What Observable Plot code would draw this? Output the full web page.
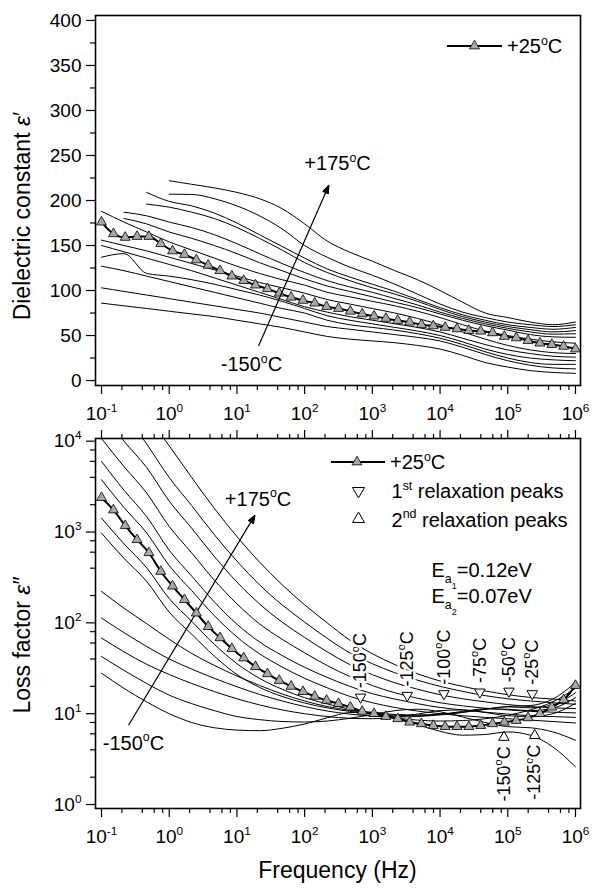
<!DOCTYPE html>
<html><head><meta charset="utf-8">
<script src="https://cdn.jsdelivr.net/npm/d3@7"></script>
<script src="https://cdn.jsdelivr.net/npm/@observablehq/plot@0.6"></script>
<style>
body{margin:0;background:#fff;}
#chart{width:592px;height:888px;}
#chart svg{display:block;}
</style></head><body><div id="chart"></div>
<script>
const FONT = "'Liberation Sans', Arial, Helvetica, sans-serif";

// ---------- frequency grids (Hz) ----------
const freqGrid = [0.1, 0.215, 0.464, 1, 2.15, 4.64, 10, 21.5, 46.4, 100, 215, 464, 1000, 2150, 4640, 1e4, 2.15e4, 4.64e4, 1e5, 2.15e5, 4.64e5, 1e6];
const freq25 = [0.1, 0.15, 0.224, 0.335, 0.501, 0.75, 1.12, 1.68, 2.51, 3.76, 5.62, 8.41, 12.6, 18.8, 28.2, 42.2, 63.1, 94.4, 141, 211, 316, 473, 708, 1059, 1585, 2371, 3548, 5309, 7943, 11885, 17783, 26607, 39811, 59566, 89125, 133352, 199526, 298538, 446684, 668344, 1e6];

// ---------- +25 °C (marked) curves ----------
const eps25 = [176,163,159,160,160,152,144,140,134,128,122,116,111,106,102,97,92.5,89,86,82,80,77,74,71.5,69,66.7,64.8,62,60.7,59,57.4,55.5,54.8,53,49,47.4,44.4,41.5,40,38,35];
const loss25 = [2390,1750,1175,823,591,368,254,180,128,91,68.5,52,41,33,27.5,23.2,20,17.5,15.5,14,12.9,11.8,10.6,10,9.3,8.8,8.06,7.74,7.4,7.2,7.2,7.2,7.4,7.74,8.06,8.4,9.0,10,11.8,14.2,20.4];

// ---------- dielectric constant, other temperatures (on freqGrid) ----------
const epsA = [null,null,null,222,218,214,209,202,191,174,155,142.6,132.6,122,112,100,87,75,70,65,62,65];
const epsB = [null,null,null,207,206.7,202,194,183,168.5,150,137,126,117,107,96,85,76,70,65,62,60,62];
const epsC = [null,null,209,199,194,186,175,162,149,136,124,115,107,99,90,81,73,67,62,59,57,59];
const epsD = [null,null,196,192.6,187,180,170,158,145,131,120,111,103,96,88,79,71,65,60,56.5,54,55.5];
const epsE = [null,187,183,176,170,162,152,141,130,120,111,104,98,91,84,76,69,63,58,54,51.5,52];
const epsF = [null,180,174,165,158,150,141,131,122,113,105,99,93,87,81,74,67,61,56,51,48.5,48];
const epsG = [188,176,165,154,145,136,127,119,112,106,98,93,88,83,77,70,62,55,50,46,43,41.5];
const epsH = [156,150,144,137,130,123,116,109,103,97,90,85,80,75,69,62,54,46,39,34,31,30];
const epsI = [150,143,136,129,122,114,106,98,90,82,76,71,67,63,59,54,47,40,34,30,27,26];
const epsJ = [137,141,119,116,112,107,101,95,88,80,72,67,63,59,55,50,43,35,29,25,23,22];
const epsK = [127,122,116,110,104,98,92,86,80,75,67,62,59,56,52,47,40,32,25,20,18,18];
const epsL = [103,99,95,91,87,83,79,75,70,65,60,57,54,51,48,44,37,29,22,17,14,13];
const epsM = [86,83,80,77,74,71,67,63,59,54,49,46,44,42,39,35,28,20,15,11,9,8];

// ---------- loss factor, other temperatures (on freqGrid) ----------
const loss175 = [89000,41700,19000,8900,3980,1820,891,468,263,158,100,64.6,45.7,34.7,27.5,22.9,20,17.8,16.2,15.1,14.5,13.8];
const loss150 = [44700,20900,9330,3980,1950,933,479,263,158,102,67.6,46.8,35.5,28.2,23.4,20,17.6,15.8,14.6,13.8,13.2,12.7];
const loss125 = [21400,10000,5130,2190,1100,537,282,162,102,69,48,34.7,26.9,21.9,18.6,16.2,14.6,13.5,12.6,12,11.6,11.4];
const loss100 = [10700,5250,2690,1150,589,295,162,97.7,66,46.8,33.9,25.7,20.4,17,14.8,13.2,12.2,11.5,11,10.6,10.4,10.2];
const loss75  = [5990,2880,1480,631,327,170,96.6,61.7,43.7,32.4,25.1,20,16.6,14.5,12.9,11.7,11,10.4,9.9,9.5,9.3,9.1];
const loss50  = [3770,1860,977,427,226,120,70,45.7,32.7,24.5,19.3,15.5,13.2,11.7,10.7,10,9.5,9.1,8.8,8.5,8.2,7.9];
const loss0   = [1422,741,404,185,104,58,35.6,24.5,18.6,15,12.8,11.2,9.8,9.0,8.5,8.3,8.4,8.8,9.6,11,13.5,19];
const lossM25 = [973,513,286,131,75,43,27,19.5,15.5,13.1,11.6,10.6,10,9.6,9.5,9.7,10.3,11.2,12,12.3,14.5,22];
const lossM50 = [222,145,98,66,46,34,26,20.5,16.5,13.8,12,10.9,10.2,9.8,9.7,9.9,10.4,11.2,11.9,11.6,12.5,17];
const lossM75 = [113,78,55,40,31,24.5,19.8,16.3,13.8,12,10.7,9.9,9.4,9.2,9.3,9.8,10.6,11.3,11.2,10.8,11.5,15];
const lossM100 = [68,48,35,27,21.5,17.5,14.6,12.5,11,10,9.3,8.9,8.8,9.1,9.9,10.8,11,10.3,9.5,9.3,10,13];
const lossM125 = [42.6,30,21.5,16,12.9,10.8,9.3,8.6,8.2,8.1,8.3,8.9,9.8,10.8,11.2,10.5,9.2,8,7.2,7,6.3,5.1];
const lossM150 = [27.9,19,13.5,10,8,7,6.6,6.5,6.9,7.7,9,10.3,10.4,9.2,7.6,6.4,5.8,5.9,6.3,5.8,4.3,2.6];

// ---------- relaxation peaks ----------
const peak1Freq = [670, 3280, 11400, 38700, 104000, 230000];
const peak1Val = [15.2, 15.9, 16.6, 17.3, 17.7, 16.6];
const peak1Label = ["-150^{o}C","-125^{o}C","-100^{o}C","-75^{o}C","-50^{o}C","-25^{o}C"];
const peak2Freq = [87700, 250000];
const peak2Val = [5.5, 5.75];
const peak2Label = ["-150^{o}C","-125^{o}C"];

// ---------- annotations ----------
const topNoteFreq = [306, 16.4];
const topNoteVal = [241, 17.8];
const topNoteText = ["+175^{o}C", "-150^{o}C"];
const topArrow = {f1: 21, v1: 38.9, f2: 227, v2: 216.7};
const botNoteFreq = [20.5, 0.297];
const botNoteVal = [2290, 4.7];
const botNoteText = ["+175^{o}C", "-150^{o}C"];
const botArrow = {f1: 0.253, v1: 7.55, f2: 18.4, v2: 1524};

// ---------- ticks ----------
const xMajor = [0.1, 1, 10, 100, 1e3, 1e4, 1e5, 1e6];
const xMinor = [];
for (let e = -1; e < 6; e++) for (const m of [2, 4, 6, 8]) xMinor.push(+(m * Math.pow(10, e)).toPrecision(3));
const epsMajor = [0, 50, 100, 150, 200, 250, 300, 350, 400];
const epsMinor = [25, 75, 125, 175, 225, 275, 325, 375];
const lossMajor = [1, 10, 100, 1000, 10000];
const lossMinor = [];
for (let e = 0; e < 4; e++) for (const m of [2, 4, 6, 8]) lossMinor.push(m * Math.pow(10, e));
const expFmt = v => `10^{${Math.round(Math.log10(v))}}`;

// ---------- helpers ----------
function toRows(values, freqs, id) {
  return values.map((v, i) => ({f: freqs[i], v, id})).filter(d => d.v != null);
}
const epsThin = [epsA,epsB,epsC,epsD,epsE,epsF,epsG,epsH,epsI,epsJ,epsK,epsL,epsM].flatMap((a, k) => toRows(a, freqGrid, "e" + k));
const lossThin = [loss175,loss150,loss125,loss100,loss75,loss50,loss0,lossM25,lossM50,lossM75,lossM100,lossM125,lossM150].flatMap((a, k) => toRows(a, freqGrid, "l" + k));
const eps25Rows = toRows(eps25, freq25, "25");
const loss25Rows = toRows(loss25, freq25, "25");
const peak1Rows = peak1Freq.map((f, i) => ({f, v: peak1Val[i], t: peak1Label[i]}));
const peak2Rows = peak2Freq.map((f, i) => ({f, v: peak2Val[i], t: peak2Label[i]}));
const topNotes = topNoteFreq.map((f, i) => ({f, v: topNoteVal[i], t: topNoteText[i]}));
const botNotes = botNoteFreq.map((f, i) => ({f, v: botNoteVal[i], t: botNoteText[i]}));

const NS = "http://www.w3.org/2000/svg";
function richify(root) {
  root.querySelectorAll("text").forEach(el => {
    const s = el.textContent;
    if (!/[\^_]\{/.test(s)) return;
    const fs = parseFloat(getComputedStyle(el).fontSize) || 18;
    el.textContent = "";
    const parts = s.split(/(\^\{[^}]*\}|__\{[^}]*\}|_\{[^}]*\})/).filter(p => p);
    let cur = 0;
    for (const p of parts) {
      let off = 0, scale = 1, txt = p;
      if (p.startsWith("^{")) { off = -0.42; scale = 0.62; txt = p.slice(2, -1); }
      else if (p.startsWith("__{")) { off = 0.62; scale = 0.45; txt = p.slice(3, -1); }
      else if (p.startsWith("_{")) { off = 0.3; scale = 0.62; txt = p.slice(2, -1); }
      const t = document.createElementNS(NS, "tspan");
      const target = off * fs;
      if (Math.abs(target - cur) > 0.01) t.setAttribute("dy", (target - cur).toFixed(2));
      cur = target;
      if (scale !== 1) t.setAttribute("font-size", (fs * scale).toFixed(1));
      t.textContent = txt;
      el.appendChild(t);
    }
  });
}
function fillArrows(root) {
  root.querySelectorAll('g[aria-label="arrow"] path').forEach(p => {
    const n = (p.getAttribute("d").match(/-?\d*\.?\d+(?:e[-+]?\d+)?/g) || []).map(Number);
    if (n.length >= 10) {
      const h = document.createElementNS(NS, "path");
      h.setAttribute("d", `M${n[4]},${n[5]}L${n[6]},${n[7]}L${n[8]},${n[9]}Z`);
      h.setAttribute("fill", "black");
      h.setAttribute("stroke", "black");
      h.setAttribute("stroke-width", "1");
      p.parentNode.appendChild(h);
    }
  });
}
function addText(svg, x, y, str, opts = {}) {
  const t = svg.append("text").attr("x", x).attr("y", y)
    .attr("font-family", FONT).attr("font-size", opts.size || 20).attr("fill", "black")
    .attr("text-anchor", opts.anchor || "start");
  if (opts.rotate) t.attr("transform", `rotate(${opts.rotate},${x},${y})`).attr("dy", "0.35em");
  if (str) t.text(str);
  return t;
}

const common = {
  width: 592,
  marginRight: 12, marginLeft: 95,
  style: {fontFamily: FONT, fontSize: "19px", color: "black", background: "white", overflow: "visible"},
  x: {type: "log", domain: [0.0815, 1.186e6], label: null}
};
const lineStyle = {x: "f", y: "v", z: "id", stroke: "black", strokeWidth: 1, curve: "monotone-x", clip: true};

// ================= TOP PANEL =================
const topSvg = Plot.plot({
  ...common,
  height: 425, marginTop: 15, marginBottom: 40,
  y: {domain: [-5.5, 405.5], label: null},
  marks: [
    Plot.line(epsThin, lineStyle),
    Plot.line(eps25Rows, {...lineStyle, strokeWidth: 2}),
    Plot.dot(eps25Rows, {x: "f", y: "v", symbol: "triangle", r: 3.7, fill: "#a8a8a8", stroke: "black", strokeWidth: 0.8}),
    Plot.arrow([topArrow], {x1: "f1", y1: "v1", x2: "f2", y2: "v2", stroke: "black", strokeWidth: 1.2, headLength: 10, headAngle: 40}),
    Plot.text(topNotes, {x: "f", y: "v", text: "t", fontSize: 20, fill: "black", stroke: "white", strokeWidth: 4, paintOrder: "stroke"}),
    Plot.frame({stroke: "black", strokeWidth: 1.6}),
    Plot.axisX(xMinor, {anchor: "bottom", tickSize: 5, tickFormat: () => "", strokeWidth: 1.2, label: null}),
    Plot.axisX(xMajor, {anchor: "bottom", tickSize: 9, tickPadding: 12, tickFormat: expFmt, strokeWidth: 1.2, label: null, fontSize: 19}),
    Plot.axisY(epsMinor, {anchor: "left", tickSize: 5, tickFormat: () => "", strokeWidth: 1.2, label: null}),
    Plot.axisY(epsMajor, {anchor: "left", tickSize: 9, tickPadding: 5, strokeWidth: 1.2, label: null, fontSize: 19})
  ]
});

// ================= BOTTOM PANEL =================
const bottomSvg = Plot.plot({
  ...common,
  height: 463, marginTop: 13, marginBottom: 80,
  y: {type: "log", domain: [0.904, 10708], label: null},
  marks: [
    Plot.line(lossThin, lineStyle),
    Plot.line(loss25Rows, {...lineStyle, strokeWidth: 2}),
    Plot.arrow([botArrow], {x1: "f1", y1: "v1", x2: "f2", y2: "v2", stroke: "black", strokeWidth: 1.2, headLength: 10, headAngle: 40}),
    Plot.text(botNotes, {x: "f", y: "v", text: "t", fontSize: 20, fill: "black", stroke: "white", strokeWidth: 4, paintOrder: "stroke"}),
    Plot.text(peak1Rows, {x: "f", y: "v", text: "t", rotate: -90, textAnchor: "start", lineAnchor: "middle", dy: -9, fontSize: 18, fill: "black", stroke: "white", strokeWidth: 5, paintOrder: "stroke"}),
    Plot.text(peak2Rows, {x: "f", y: "v", text: "t", rotate: -90, textAnchor: "end", lineAnchor: "middle", dy: 9, fontSize: 18, fill: "black", stroke: "white", strokeWidth: 5, paintOrder: "stroke"}),
    Plot.dot(loss25Rows, {x: "f", y: "v", symbol: "triangle", r: 3.7, fill: "#a8a8a8", stroke: "black", strokeWidth: 0.8}),
    Plot.dot(peak1Rows, {x: "f", y: "v", symbol: "triangle", rotate: 180, r: 3.9, fill: "white", stroke: "black", strokeWidth: 1}),
    Plot.dot(peak2Rows, {x: "f", y: "v", symbol: "triangle", r: 3.9, fill: "white", stroke: "black", strokeWidth: 1}),
    Plot.frame({stroke: "black", strokeWidth: 1.6}),
    Plot.axisX(xMinor, {anchor: "bottom", tickSize: 5, tickFormat: () => "", strokeWidth: 1.2, label: null}),
    Plot.axisX(xMajor, {anchor: "bottom", tickSize: 9, tickPadding: 12, tickFormat: expFmt, strokeWidth: 1.2, label: null, fontSize: 19}),
    Plot.axisX(xMinor, {anchor: "top", tickSize: 5, tickFormat: () => "", strokeWidth: 1.2, label: null}),
    Plot.axisX(xMajor, {anchor: "top", tickSize: 9, tickFormat: () => "", strokeWidth: 1.2, label: null}),
    Plot.axisY(lossMinor, {anchor: "left", tickSize: 5, tickFormat: () => "", strokeWidth: 1.2, label: null}),
    Plot.axisY(lossMajor, {anchor: "left", tickSize: 9, tickPadding: 5, tickFormat: expFmt, strokeWidth: 1.2, label: null, fontSize: 19})
  ]
});

const chart = document.getElementById("chart");
chart.appendChild(topSvg);
chart.appendChild(bottomSvg);

// ----- titles & legends (layout text) -----
const ts = d3.select(topSvg);
{
  const t = addText(ts, 22, 216, "", {size: 23, anchor: "middle", rotate: -90});
  t.append("tspan").text("Dielectric constant ");
  t.append("tspan").attr("font-style", "italic").text("ε");
  t.append("tspan").text("′");
  const g = ts.append("g");
  g.append("line").attr("x1", 447).attr("x2", 502).attr("y1", 46).attr("y2", 46).attr("stroke", "black").attr("stroke-width", 2);
  g.append("path").attr("d", d3.symbol(d3.symbolTriangle, 3.7 * 3.7 * Math.PI)()).attr("transform", "translate(474.5,46)").attr("fill", "#a8a8a8").attr("stroke", "black").attr("stroke-width", 0.8);
  addText(ts, 507, 53, "+25^{o}C", {size: 20});
}
const bs = d3.select(bottomSvg);
{
  const t = addText(bs, 22, 220, "", {size: 23, anchor: "middle", rotate: -90});
  t.append("tspan").text("Loss factor ");
  t.append("tspan").attr("font-style", "italic").text("ε");
  t.append("tspan").text("″");
  addText(bs, 337.5, 453, "Frequency (Hz)", {size: 23, anchor: "middle"});
  const g = bs.append("g");
  g.append("line").attr("x1", 331).attr("x2", 385).attr("y1", 37).attr("y2", 37).attr("stroke", "black").attr("stroke-width", 2);
  g.append("path").attr("d", d3.symbol(d3.symbolTriangle, 3.7 * 3.7 * Math.PI)()).attr("transform", "translate(357,37)").attr("fill", "#a8a8a8").attr("stroke", "black").attr("stroke-width", 0.8);
  addText(bs, 390, 44, "+25^{o}C", {size: 20});
  g.append("path").attr("d", d3.symbol(d3.symbolTriangle, 62)()).attr("transform", "translate(358.5,66) rotate(180)").attr("fill", "white").attr("stroke", "black").attr("stroke-width", 1);
  addText(bs, 391.5, 73, "1^{st} relaxation peaks", {size: 20});
  g.append("path").attr("d", d3.symbol(d3.symbolTriangle, 62)()).attr("transform", "translate(358.5,94)").attr("fill", "white").attr("stroke", "black").attr("stroke-width", 1);
  addText(bs, 391.5, 101.5, "2^{nd} relaxation peaks", {size: 20});
  addText(bs, 431.5, 151.5, "E_{a}__{1}=0.12eV", {size: 20});
  addText(bs, 431.5, 178, "E_{a}__{2}=0.07eV", {size: 20});
}
[topSvg, bottomSvg].forEach(s => { richify(s); fillArrows(s); });
</script></body></html>
